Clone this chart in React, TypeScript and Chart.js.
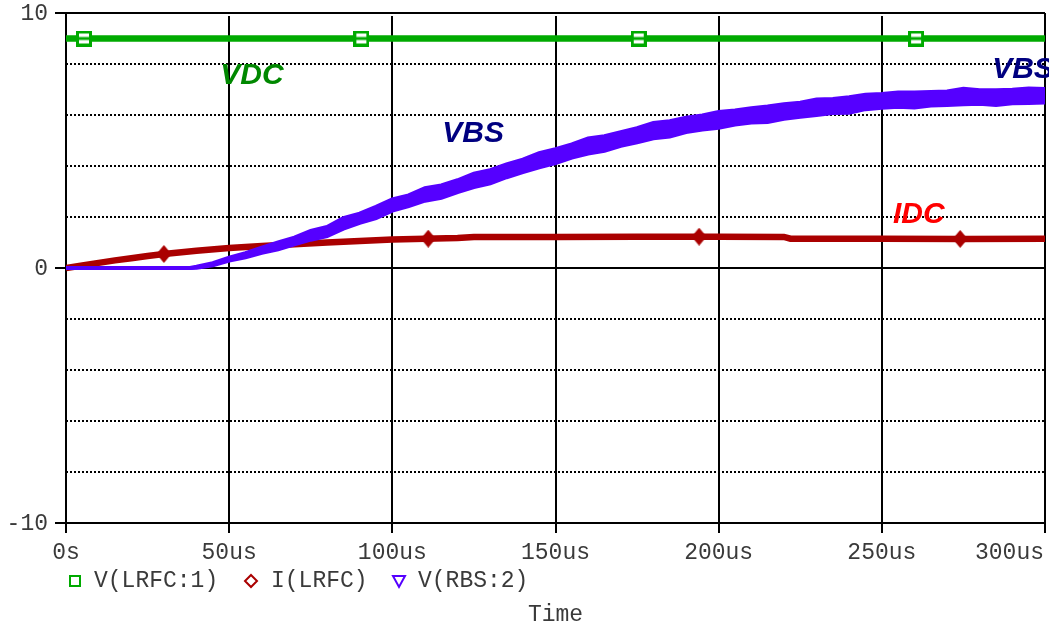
import React, { useEffect, useRef } from 'react';
import { Chart, registerables } from 'chart.js';

Chart.register(...registerables);

// ---- Data (time in microseconds) ----
const vbsTimes = [0, 20, 38, 40, 45, 50, 55, 60, 65, 70, 75, 80, 85, 90, 95, 100, 105, 110, 115, 120, 125, 130, 135, 140, 145, 150, 155, 160, 165, 170, 175, 180, 185, 190, 195, 200, 205, 210, 215, 220, 225, 230, 235, 240, 245, 250, 255, 260, 265, 270, 275, 280, 285, 290, 295, 300];
const vbsValues = [0, 0, 0, 0.03, 0.15, 0.35, 0.5, 0.7, 0.88, 1.05, 1.25, 1.45, 1.7, 1.95, 2.2, 2.45, 2.65, 2.85, 3.02, 3.2, 3.4, 3.6, 3.8, 4.0, 4.2, 4.4, 4.58, 4.75, 4.9, 5.05, 5.2, 5.35, 5.48, 5.6, 5.7, 5.8, 5.9, 5.98, 6.05, 6.12, 6.2, 6.28, 6.35, 6.42, 6.5, 6.55, 6.58, 6.6, 6.63, 6.65, 6.68, 6.7, 6.71, 6.72, 6.73, 6.75];
// ripple envelope above / below the mean trace
const vbsRippleUp = [0, 0, 0, 0.02, 0.04, 0.06, 0.08, 0.1, 0.12, 0.14, 0.2, 0.16, 0.26, 0.18, 0.2, 0.24, 0.2, 0.28, 0.22, 0.24, 0.3, 0.24, 0.26, 0.25, 0.3, 0.26, 0.27, 0.33, 0.27, 0.28, 0.28, 0.34, 0.28, 0.29, 0.28, 0.32, 0.28, 0.29, 0.28, 0.3, 0.28, 0.33, 0.28, 0.28, 0.29, 0.27, 0.3, 0.28, 0.27, 0.27, 0.35, 0.27, 0.26, 0.27, 0.31, 0.27];
const vbsRippleDown = [0, 0, 0, 0.02, 0.04, 0.06, 0.08, 0.1, 0.15, 0.12, 0.14, 0.2, 0.16, 0.18, 0.24, 0.2, 0.22, 0.21, 0.27, 0.22, 0.23, 0.28, 0.24, 0.24, 0.25, 0.29, 0.25, 0.26, 0.3, 0.26, 0.27, 0.26, 0.32, 0.27, 0.27, 0.3, 0.27, 0.27, 0.32, 0.27, 0.27, 0.28, 0.27, 0.33, 0.27, 0.27, 0.26, 0.31, 0.26, 0.26, 0.26, 0.26, 0.32, 0.26, 0.26, 0.26];

const idcTimes = [0, 5, 10, 15, 20, 25, 30, 40, 50, 60, 70, 80, 90, 100, 110, 120, 125, 150, 175, 200, 220, 222, 250, 275, 300];
const idcValues = [0, 0.1, 0.2, 0.3, 0.38, 0.47, 0.55, 0.68, 0.78, 0.86, 0.93, 1.0, 1.06, 1.12, 1.15, 1.18, 1.22, 1.22, 1.23, 1.23, 1.22, 1.15, 1.15, 1.14, 1.15];
const idcMarkerTimes = [30, 111, 194, 274];
const idcMarkerValues = [0.55, 1.15, 1.23, 1.14];

const vdcTimes = [0, 300];
const vdcValues = [9, 9];
const vdcMarkerTimes = [5.5, 90.5, 175.5, 260.5];
const vdcMarkerValues = [9, 9, 9, 9];

const xTickValues = [0, 50, 100, 150, 200, 250, 300];
const xTickLabels = ['0s', '50us', '100us', '150us', '200us', '250us', '300us'];
const yTickValues = [10, 0, -10];
const yTickLabels = ['10', '0', '-10'];
const yGridValues = [8, 6, 4, 2, -2, -4, -6, -8];
const legendLabels = ['V(LRFC:1)', 'I(LRFC)', 'V(RBS:2)'];
const xAxisTitle = 'Time';

const GREEN = '#00aa00';
const RED = '#aa0000';
const BLUE = '#5500ff';
const MONO = "23px 'Liberation Mono', 'Courier New', monospace";
const LABEL_FONT = "bold italic 30px 'Liberation Sans', Arial, sans-serif";

const pts = (xs: number[], ys: number[]) => xs.map((x, i) => ({ x, y: ys[i] }));

function makeSquareMarker() {
  const c = document.createElement('canvas');
  c.width = 16; c.height = 16;
  const g = c.getContext('2d')!;
  g.fillStyle = GREEN;
  g.fillRect(0, 0, 16, 16);
  g.fillStyle = '#fff';
  g.fillRect(3, 3, 10, 10);
  g.fillStyle = GREEN;
  g.fillRect(3, 6.5, 10, 3);
  return c;
}

function makeDiamondMarker() {
  const c = document.createElement('canvas');
  c.width = 15; c.height = 18;
  const g = c.getContext('2d')!;
  g.fillStyle = RED;
  g.beginPath();
  g.moveTo(7.5, 0); g.lineTo(15, 9); g.lineTo(7.5, 18); g.lineTo(0, 9); g.closePath();
  g.fill();
  return c;
}

const decorPlugin = {
  id: 'decor',
  beforeDatasetsDraw(chart: any) {
    const { ctx, chartArea: a, scales } = chart;
    const xs = scales.x, ys = scales.y;
    ctx.save();
    ctx.strokeStyle = '#000';
    ctx.lineWidth = 2;
    ctx.setLineDash([2, 2]);
    for (const v of yGridValues) {
      const y = Math.round(ys.getPixelForValue(v));
      ctx.beginPath();
      ctx.moveTo(a.left, y);
      ctx.lineTo(a.right, y);
      ctx.stroke();
    }
    ctx.setLineDash([]);
    for (const v of yTickValues) {
      const y = Math.round(ys.getPixelForValue(v));
      ctx.beginPath();
      ctx.moveTo(a.left - 11, y);
      ctx.lineTo(a.right, y);
      ctx.stroke();
    }
    for (const v of xTickValues) {
      const x = Math.round(xs.getPixelForValue(v));
      ctx.beginPath();
      const top = v === 0 || v === 300 ? a.top : a.top + 3;
      ctx.moveTo(x, top);
      ctx.lineTo(x, a.bottom + 10);
      ctx.stroke();
    }
    ctx.restore();
  },
  afterDraw(chart: any) {
    const { ctx, chartArea: a, scales } = chart;
    const xs = scales.x, ys = scales.y;
    ctx.save();
    ctx.fillStyle = '#3a3a3a';
    ctx.font = MONO;
    ctx.textBaseline = 'middle';
    ctx.textAlign = 'right';
    yTickValues.forEach((v, i) => {
      ctx.fillText(yTickLabels[i], a.left - 18, ys.getPixelForValue(v) + 1);
    });
    xTickValues.forEach((v, i) => {
      const last = i === xTickValues.length - 1;
      ctx.textAlign = last ? 'right' : 'center';
      const x = last ? a.right - 1 : xs.getPixelForValue(v);
      ctx.fillText(xTickLabels[i], x, a.bottom + 30);
    });
    const ly = a.bottom + 58;
    ctx.textAlign = 'left';
    ctx.lineWidth = 2;
    ctx.strokeStyle = GREEN;
    ctx.strokeRect(70, ly - 5, 10, 10);
    ctx.fillText(legendLabels[0], 94, ly);
    ctx.strokeStyle = RED;
    ctx.beginPath();
    ctx.moveTo(251, ly - 6); ctx.lineTo(257, ly); ctx.lineTo(251, ly + 6); ctx.lineTo(245, ly); ctx.closePath();
    ctx.stroke();
    ctx.fillText(legendLabels[1], 271, ly);
    ctx.strokeStyle = BLUE;
    ctx.beginPath();
    ctx.moveTo(393, ly - 5); ctx.lineTo(405, ly - 5); ctx.lineTo(399, ly + 6); ctx.closePath();
    ctx.stroke();
    ctx.fillText(legendLabels[2], 418, ly);
    ctx.textAlign = 'center';
    ctx.fillText(xAxisTitle, (a.left + a.right) / 2, a.bottom + 92);
    ctx.font = LABEL_FONT;
    ctx.textAlign = 'left';
    ctx.textBaseline = 'alphabetic';
    const labels = [
      { t: 'VDC', x: 47.3, y: 7.2, c: '#008800' },
      { t: 'VBS', x: 115.3, y: 4.96, c: '#000080' },
      { t: 'VBS', x: 283.8, y: 7.47, c: '#000080' },
      { t: 'IDC', x: 253.4, y: 1.75, c: '#ff0000' },
    ];
    for (const l of labels) {
      ctx.fillStyle = l.c;
      ctx.fillText(l.t, xs.getPixelForValue(l.x), ys.getPixelForValue(l.y));
    }
    ctx.strokeStyle = '#000';
    ctx.lineWidth = 2;
    ctx.beginPath();
    ctx.moveTo(a.left - 11, a.top);
    ctx.lineTo(a.right, a.top);
    ctx.moveTo(a.left - 11, a.bottom);
    ctx.lineTo(a.right, a.bottom);
    ctx.stroke();
    ctx.restore();
  },
};

export default function App() {
  const ref = useRef<HTMLCanvasElement | null>(null);
  useEffect(() => {
    document.body.style.margin = '0';
    if (!ref.current) return;
    const vbsUpper = vbsValues.map((v, i) => v + vbsRippleUp[i]);
    const vbsLower = vbsValues.map((v, i) => v - vbsRippleDown[i]);
    const squareMarker = makeSquareMarker();
    const diamondMarker = makeDiamondMarker();
    const chart = new Chart(ref.current, {
      type: 'line',
      data: {
        datasets: [
          {
            label: 'V(RBS:2) upper',
            data: pts(vbsTimes, vbsUpper),
            borderColor: BLUE,
            backgroundColor: BLUE,
            borderWidth: 4,
            pointRadius: 0,
            fill: '+1',
            order: 1,
          },
          {
            label: 'V(RBS:2)',
            data: pts(vbsTimes, vbsLower),
            borderColor: BLUE,
            borderWidth: 4,
            pointRadius: 0,
            fill: false,
            order: 1,
          },
          {
            label: 'I(LRFC) markers',
            data: pts(idcMarkerTimes, idcMarkerValues),
            showLine: false,
            pointStyle: diamondMarker as any,
            pointRadius: 8,
            order: 2,
          },
          {
            label: 'I(LRFC)',
            data: pts(idcTimes, idcValues),
            borderColor: RED,
            borderWidth: 6.5,
            pointRadius: 0,
            fill: false,
            order: 3,
          },
          {
            label: 'V(LRFC:1) markers',
            data: pts(vdcMarkerTimes, vdcMarkerValues),
            showLine: false,
            pointStyle: squareMarker as any,
            pointRadius: 8,
            order: 4,
          },
          {
            label: 'V(LRFC:1)',
            data: pts(vdcTimes, vdcValues),
            borderColor: GREEN,
            borderWidth: 6.5,
            pointRadius: 0,
            fill: false,
            order: 5,
          },
        ],
      },
      options: {
        animation: false,
        responsive: false,
        parsing: false as any,
        layout: { autoPadding: false, padding: { left: 66, top: 13, right: 4, bottom: 102 } },
        plugins: { legend: { display: false }, tooltip: { enabled: false } },
        scales: {
          x: { type: 'linear', min: 0, max: 300, display: false },
          y: { type: 'linear', min: -10, max: 10, display: false },
        },
        elements: { line: { tension: 0 } },
      },
      plugins: [decorPlugin],
    });
    return () => chart.destroy();
  }, []);
  return (
    <div style={{ width: 1049, height: 625 }}>
      <canvas ref={ref} width={1049} height={625} style={{ display: 'block' }} />
    </div>
  );
}
